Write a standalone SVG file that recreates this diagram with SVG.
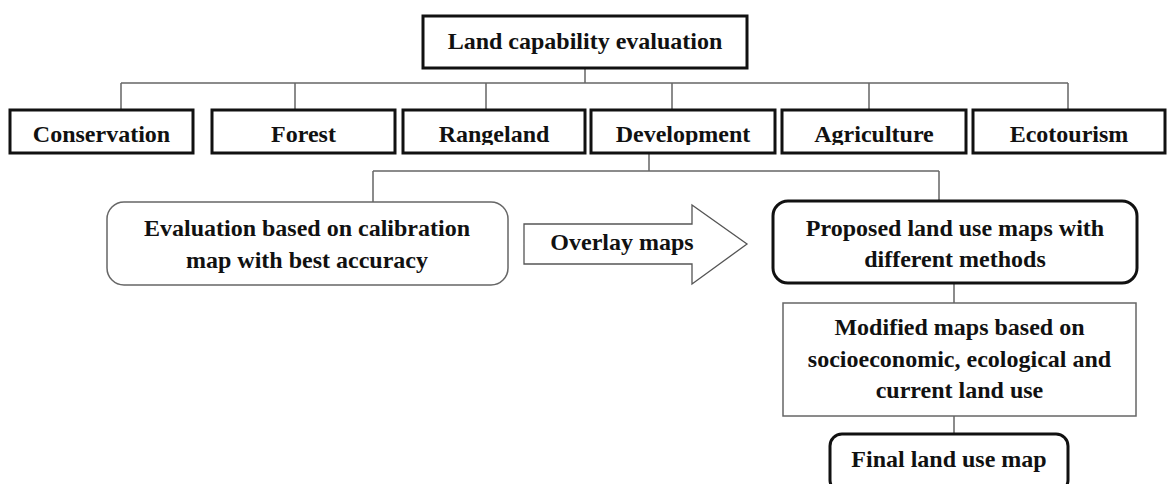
<svg xmlns="http://www.w3.org/2000/svg" width="1170" height="484" viewBox="0 0 1170 484">
<defs>
<style>
.t{font-family:"Liberation Serif","Times New Roman",serif;font-weight:bold;font-size:24px;fill:#111;text-anchor:middle}
.thick{fill:#fff;stroke:#111;stroke-width:3}
.thin{fill:#fff;stroke:#666;stroke-width:1.5}
.con{fill:none;stroke:#666;stroke-width:1.5}
</style>
<clipPath id="rowclip"><rect x="0" y="100" width="1170" height="45"/></clipPath>
</defs>
<rect width="1170" height="484" fill="#fff"/>
<g id="connectors">
<path class="con" d="M585 68V83M121 83H1068M121 83V110M295 83V110M486 83V110M672 83V110M869 83V110M1068 83V110"/>
<path class="con" d="M649 153V171M373 171H939M373 171V202M939 171V201"/>
<path class="con" d="M954 283V303M954 416V434"/>
</g>
<g id="n-top"><rect class="thick" x="423" y="16" width="324" height="52"/><text class="t" x="585" y="49">Land capability evaluation</text></g>
<g id="n-conservation"><rect class="thick" x="10" y="110" width="183" height="43"/><text class="t" x="101.5" y="142" clip-path="url(#rowclip)">Conservation</text></g>
<g id="n-forest"><rect class="thick" x="212" y="110" width="183" height="43"/><text class="t" x="303.5" y="142" clip-path="url(#rowclip)">Forest</text></g>
<g id="n-rangeland"><rect class="thick" x="403" y="110" width="182" height="43"/><text class="t" x="494" y="142" clip-path="url(#rowclip)">Rangeland</text></g>
<g id="n-development"><rect class="thick" x="591" y="110" width="184" height="43"/><text class="t" x="683" y="142" clip-path="url(#rowclip)">Development</text></g>
<g id="n-agriculture"><rect class="thick" x="782" y="110" width="184" height="43"/><text class="t" x="874" y="142" clip-path="url(#rowclip)">Agriculture</text></g>
<g id="n-ecotourism"><rect class="thick" x="973" y="110" width="192" height="43"/><text class="t" x="1069" y="142" clip-path="url(#rowclip)">Ecotourism</text></g>
<g id="n-evaluation"><rect class="thin" x="107" y="202" width="401" height="83" rx="17"/><text class="t" x="307" y="236">Evaluation based on calibration</text><text class="t" x="307" y="268">map with best accuracy</text></g>
<g id="n-overlay"><path d="M524 224H692V205L747 244L692 284V264H524Z" fill="#fff" stroke="#555" stroke-width="1.3"/><text class="t" x="622" y="250">Overlay maps</text></g>
<g id="n-proposed"><rect class="thick" x="773" y="201" width="364" height="82" rx="15"/><text class="t" x="955" y="236">Proposed land use maps with</text><text class="t" x="955" y="267">different methods</text></g>
<g id="n-modified"><rect class="thin" x="783" y="303" width="353" height="113" stroke="#777"/><text class="t" x="959.5" y="335">Modified maps based on</text><text class="t" x="959.5" y="367">socioeconomic, ecological and</text><text class="t" x="959.5" y="398">current land use</text></g>
<g id="n-final"><rect class="thick" x="830" y="434" width="238" height="58" rx="12"/><text class="t" x="949" y="467">Final land use map</text></g>
</svg>
